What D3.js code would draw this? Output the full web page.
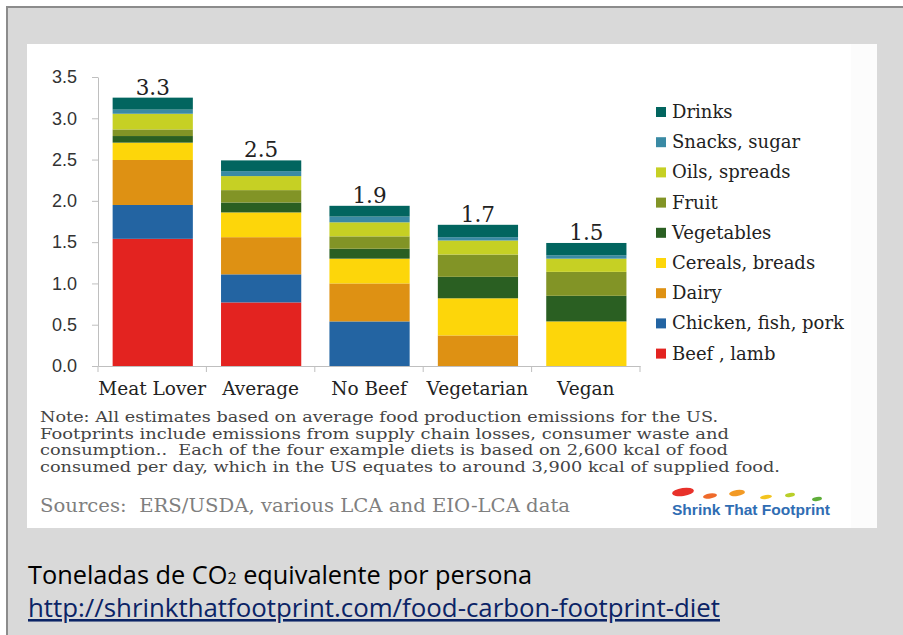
<!DOCTYPE html>
<html>
<head>
<meta charset="utf-8">
<title>Food carbon footprint by diet</title>
<script src="https://cdn.jsdelivr.net/npm/d3@7"></script>
<style>
  html, body { margin: 0; padding: 0; background: #fff; }
  svg { display: block; }
</style>
</head>
<body>
<svg width="903" height="635" id="mainsvg"></svg>
<script>
// ---- data ----
const diets = ['Meat Lover', 'Average', 'No Beef', 'Vegetarian', 'Vegan']
const foodGroups = ['Beef , lamb', 'Chicken, fish, pork', 'Dairy', 'Cereals, breads',
                    'Vegetables', 'Fruit', 'Oils, spreads', 'Snacks, sugar', 'Drinks']
const beefLamb        = [1.54, 0.77, 0,    0,    0]
const chickenFishPork = [0.41, 0.34, 0.54, 0,    0]
const dairy           = [0.545, 0.45, 0.46, 0.37, 0]
const cerealsBreads   = [0.21, 0.30, 0.30, 0.45, 0.54]
const vegetables      = [0.08, 0.12, 0.12, 0.26, 0.31]
const fruit           = [0.08, 0.15, 0.15, 0.27, 0.29]
const oilsSpreads     = [0.19, 0.17, 0.17, 0.17, 0.16]
const snacksSugar     = [0.05, 0.06, 0.07, 0.04, 0.04]
const drinks          = [0.145, 0.13, 0.13, 0.15, 0.15]
const totalLabels = ['3.3', '2.5', '1.9', '1.7', '1.5']
const yTicks = [0, 0.5, 1, 1.5, 2, 2.5, 3, 3.5]
const groupColors = ['#e32320', '#2364a2', '#de9113', '#fdd60a', '#2a5f22',
                     '#829426', '#c6d024', '#3a8aa4', '#02655f']
const noteLines = [
  'Note: All estimates based on average food production emissions for the US.',
  'Footprints include emissions from supply chain losses, consumer waste and',
  'consumption..  Each of the four example diets is based on 2,600 kcal of food',
  'consumed per day, which in the US equates to around 3,900 kcal of supplied food.'
]
const noteWidths = [678, 689, 688, 740]

const seriesValues = [beefLamb, chickenFishPork, dairy, cerealsBreads, vegetables,
                      fruit, oilsSpreads, snacksSugar, drinks]
const table = diets.map((d, i) => {
  const row = {diet: d}
  foodGroups.forEach((g, j) => row[g] = seriesValues[j][i])
  return row
})

const svg = d3.select('#mainsvg')
const serif = "'DejaVu Serif', serif"

// ---- frame ----
svg.append('rect').attr('x', 7).attr('y', 7).attr('width', 900).attr('height', 640)
  .attr('fill', '#d9d9d9').attr('stroke', '#8c8c8c').attr('stroke-width', 2)
svg.append('rect').attr('x', 27).attr('y', 44).attr('width', 850).attr('height', 484)
  .attr('fill', '#fcfcfc')
svg.append('rect').attr('x', 27).attr('y', 44).attr('width', 824).attr('height', 484)
  .attr('fill', '#ffffff')

// ---- scales ----
const x = d3.scaleBand().domain(diets).range([98, 640])
const y = d3.scaleLinear().domain([0, 3.5]).range([366, 77])
const color = d3.scaleOrdinal().domain(foodGroups).range(groupColors)

const stacked = d3.stack().keys(foodGroups)(table)

// ---- axes ----
const yAxis = svg.append('g')
  .attr('transform', 'translate(98,0)')
  .call(d3.axisLeft(y).tickValues(yTicks).tickFormat(d3.format('.1f'))
        .tickSize(6).tickSizeOuter(0).tickPadding(15))
yAxis.selectAll('path, line').attr('stroke', '#bfbfbf')
yAxis.selectAll('text').attr('fill', '#333').attr('font-size', 18)
  .attr('font-family', "'Liberation Sans', Arial, sans-serif")

const xAxis = svg.append('g')
  .attr('transform', 'translate(0,366)')
  .call(d3.axisBottom(x).tickSize(0).tickSizeOuter(0).tickPadding(16))
xAxis.select('path').attr('stroke', '#bfbfbf')
xAxis.selectAll('text').attr('fill', '#222').attr('font-size', 18.5)
  .attr('font-family', serif)
xAxis.selectAll('line.sep')
  .data(diets.map(d => x(d)).concat([x.range()[1]]))
  .join('line')
  .attr('class', 'sep')
  .attr('x1', d => d).attr('x2', d => d)
  .attr('y1', 0).attr('y2', 6)
  .attr('stroke', '#bfbfbf')

// ---- bars ----
const barOff = x.step() * 0.135
const barW = x.step() * 0.74
svg.append('g').selectAll('g')
  .data(stacked)
  .join('g')
  .attr('fill', d => color(d.key))
  .selectAll('rect')
  .data(d => d)
  .join('rect')
  .attr('x', d => x(d.data.diet) + barOff)
  .attr('width', barW)
  .attr('y', d => y(d[1]))
  .attr('height', d => y(d[0]) - y(d[1]))

// totals above bars
const topLayer = stacked[stacked.length - 1]
svg.append('g').selectAll('text')
  .data(topLayer)
  .join('text')
  .attr('x', d => x(d.data.diet) + barOff + barW / 2)
  .attr('y', d => y(d[1]) - 3)
  .attr('text-anchor', 'middle')
  .attr('font-family', serif)
  .attr('font-size', 21.5)
  .attr('fill', '#222')
  .text((d, i) => totalLabels[i])

// ---- legend ----
const legendOrder = foodGroups.slice().reverse()
const legend = svg.append('g').selectAll('g')
  .data(legendOrder)
  .join('g')
  .attr('transform', (d, i) => `translate(656, ${112 + i * 30.2})`)
legend.append('rect')
  .attr('x', 0).attr('y', -5).attr('width', 10).attr('height', 10)
  .attr('fill', d => color(d))
legend.append('text')
  .attr('x', 16).attr('y', 6)
  .attr('font-family', serif).attr('font-size', 18).attr('fill', '#222')
  .text(d => d)

// ---- notes ----
svg.append('g').selectAll('text')
  .data(noteLines)
  .join('text')
  .attr('x', 40)
  .attr('y', (d, i) => 422 + i * 16.5)
  .attr('font-family', serif).attr('font-size', 14).attr('fill', '#444')
  .attr('textLength', (d, i) => noteWidths[i]).attr('lengthAdjust', 'spacingAndGlyphs')
  .attr('xml:space', 'preserve')
  .text(d => d)

svg.append('text')
  .attr('x', 40).attr('y', 512)
  .attr('font-family', serif).attr('font-size', 18).attr('fill', '#7f7f7f')
  .attr('xml:space', 'preserve')
  .attr('textLength', 530).attr('lengthAdjust', 'spacingAndGlyphs')
  .text('Sources:  ERS/USDA, various LCA and EIO-LCA data')

// ---- logo ----
const feet = [
  {cx: 683, cy: 492, rx: 11, ry: 4, c: '#e8312a'},
  {cx: 710, cy: 496, rx: 7, ry: 2.5, c: '#ef6a2b'},
  {cx: 737, cy: 493, rx: 8, ry: 3, c: '#f29a25'},
  {cx: 766, cy: 497, rx: 6, ry: 2, c: '#f3c41f'},
  {cx: 790, cy: 495, rx: 5, ry: 2, c: '#b9cf2a'},
  {cx: 817, cy: 499, rx: 5, ry: 2, c: '#5fae3a'}
]
const logo = svg.append('g')
logo.selectAll('ellipse')
  .data(feet)
  .join('ellipse')
  .attr('cx', d => d.cx).attr('cy', d => d.cy)
  .attr('rx', d => d.rx).attr('ry', d => d.ry)
  .attr('fill', d => d.c)
  .attr('transform', d => `rotate(-8, ${d.cx}, ${d.cy})`)
logo.append('text')
  .attr('x', 672).attr('y', 515)
  .attr('font-family', "'Liberation Sans', Arial, sans-serif")
  .attr('font-weight', 'bold').attr('font-size', 15)
  .attr('fill', '#2f6db3')
  .attr('textLength', 158).attr('lengthAdjust', 'spacingAndGlyphs')
  .text('Shrink That Footprint')

// ---- caption ----
const cap = svg.append('text')
  .attr('x', 28).attr('y', 584)
  .attr('font-family', "'Open Sans', 'Noto Sans', sans-serif")
  .attr('font-size', 25.5).attr('fill', '#000')
  .attr('textLength', 504).attr('lengthAdjust', 'spacingAndGlyphs')
cap.append('tspan').text('Toneladas de CO')
cap.append('tspan').attr('font-size', 16).text('2')
cap.append('tspan').text(' equivalente por persona')

svg.append('text')
  .attr('x', 28).attr('y', 617)
  .attr('font-family', "'Open Sans', 'Noto Sans', sans-serif")
  .attr('font-size', 25.5).attr('fill', '#0b2466')
  .attr('text-decoration', 'underline')
  .attr('textLength', 692).attr('lengthAdjust', 'spacingAndGlyphs')
  .text('http://shrinkthatfootprint.com/food-carbon-footprint-diet')
</script>
</body>
</html>
